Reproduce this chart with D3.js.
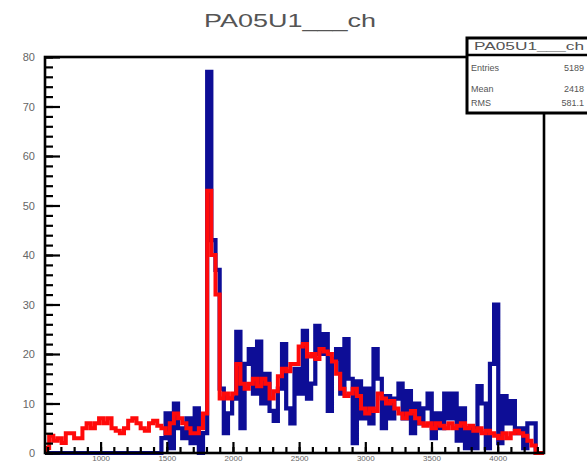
<!DOCTYPE html>
<html><head><meta charset="utf-8">
<script src="https://cdn.jsdelivr.net/npm/d3@7"></script>
<style>body{margin:0;background:#fff}svg{display:block}</style>
</head><body>
<script>
const title = "PA05U1___ch";
const xTickValues = [1000, 1500, 2000, 2500, 3000, 3500, 4000];
const yTickValues = [0, 10, 20, 30, 40, 50, 60, 70, 80];
const xMin = 580, xMax = 4350, nBins = 120;
const statsLabels = ["Entries", "Mean", "RMS"];
const statsValues = ["5189", "2418", "581.1"];

const blueValues = [
 0,0,0,0,0,0,0,0,0,0, 0,0,0,0,0,0,0,0,0,0, 0,0,0,0,0,0,0,0,3,8,
 1,10,5,3,7,2,9,0,4,77, 43,37,13,4,8,11,24.5,5,18,21, 12,22.5,10,16,8.5,6.5,13,22,9,6,
 17,12,24.7,11,14,25.7,20,24,8.5,19, 21,12,23,15,2,14.5,7,13,6,21,
 15,5,11.5,7,11,14,7,12.5,4,10, 6,9,12,3,8,5,12,7,12,2.5,
 9,1,5,1,13.5,10,1,18,30,2, 11.5,6,10.5,4,5,1,6,6,0,0
];
const redValues = [
 1,3.5,2.5,3,2,4,4,3,3,5, 6,5,6,7,6,7,5,4.5,4,5, 6.5,7,6,5,4.5,6,6.5,5.5,5,4,
 6,8,7,6,5,4,4,5,8,53, 40,32,11,12,11,12,18,14,13,14, 15,13.5,15,14,11,12.5,15.5,17,16.5,18,
 18,21.5,22,19.5,20,19,21,20.5,20,18.5, 16,13,11.5,12,13,11.5,9,8,9,8.5,
 12,11,10,10.5,9,8,7,8,8.5,7, 6,5.5,6,5,6,5.5,5,6,5,5.5,
 6,5,5.5,4.5,5,4,4.5,4,3.5,3, 4,3,4,4.5,4,3.5,2.5,1.5,0,0
];

const W = 587, H = 464;
const svg = d3.select("body").append("svg").attr("width", W).attr("height", H)
  .style("font-family", "'Liberation Sans', Arial, sans-serif");

const x = d3.scaleLinear().domain([xMin, xMax]).range([45, 544]);
const y = d3.scaleLinear().domain([0, 80]).range([453, 57]);
const bw = (xMax - xMin) / nBins;

svg.append("defs").append("clipPath").attr("id", "clip")
  .append("rect").attr("x", 45).attr("y", 40).attr("width", 499).attr("height", 416);

function histPts(vals) {
  const pts = [[xMin, 0]];
  vals.forEach((v, i) => { pts.push([xMin + i * bw, v]); pts.push([xMin + (i + 1) * bw, v]); });
  pts.push([xMax, 0]);
  return pts;
}
const line = d3.line().x(d => x(d[0])).y(d => y(d[1]));

const g = svg.append("g").attr("clip-path", "url(#clip)");
g.append("path").attr("d", line(histPts(blueValues))).attr("fill", "none")
  .attr("stroke", "#0d0d96").attr("stroke-width", 4.2);
g.append("path").attr("d", line(histPts(redValues))).attr("fill", "none")
  .attr("stroke", "#ff0a0a").attr("stroke-width", 4);

// axes
const yMinor = d3.range(0, 81, 2);
const yAxMinor = d3.axisLeft(y).tickValues(yMinor).tickSize(-8).tickFormat("");
svg.append("g").attr("transform", "translate(45,0)").call(yAxMinor);
const yAx = d3.axisLeft(y).tickValues(yTickValues).tickSize(-15).tickPadding(10).tickFormat(d3.format("d"));
svg.append("g").attr("transform", "translate(45,0)").call(yAx);

const xMinorVals = d3.range(0, 60).map(i => 500 + i * 100).filter(v => v >= xMin && v <= xMax);
const xAxMinor = d3.axisBottom(x).tickValues(xMinorVals).tickSize(-6).tickFormat("");
svg.append("g").attr("transform", "translate(0,453)").call(xAxMinor);
const xAx = d3.axisBottom(x).tickValues(xTickValues).tickSize(-11).tickPadding(3).tickFormat(d3.format("d"));
svg.append("g").attr("transform", "translate(0,453)").call(xAx);

svg.selectAll(".domain").remove();
svg.selectAll(".tick line").attr("stroke", "#000").attr("stroke-width", 2.2);
svg.selectAll(".tick text").attr("fill", "#666").style("font-size", "11px")
  .style("font-family", "'Liberation Sans', Arial, sans-serif");
svg.selectAll("g").filter(function(){ return this.getAttribute("transform") === "translate(0,453)"; })
  .selectAll(".tick text").style("font-size", "8px").attr("dy", "0.6em");

// frame
svg.append("rect").attr("x", 45).attr("y", 57).attr("width", 499).attr("height", 396)
  .attr("fill", "none").attr("stroke", "#000").attr("stroke-width", 2.6);

// title
svg.append("text").attr("x", 290).attr("y", 27).attr("text-anchor", "middle")
  .attr("fill", "#555").style("font-size", "19px")
  .attr("textLength", 172).attr("lengthAdjust", "spacingAndGlyphs").text(title);

// stats box
const sb = svg.append("g");
sb.append("rect").attr("x", 467).attr("y", 38).attr("width", 140).attr("height", 75)
  .attr("fill", "#fff").attr("stroke", "#000").attr("stroke-width", 3);
sb.append("line").attr("x1", 467).attr("x2", 590).attr("y1", 55).attr("y2", 55)
  .attr("stroke", "#000").attr("stroke-width", 2.5);
sb.append("text").attr("x", 474).attr("y", 50).attr("fill", "#555").style("font-size", "10px")
  .attr("textLength", 110).attr("lengthAdjust", "spacingAndGlyphs").text(title);
const rowsY = [71, 92, 106];
statsLabels.forEach((t, i) => {
  sb.append("text").attr("x", 471).attr("y", rowsY[i]).attr("fill", "#555").style("font-size", "9px").text(t);
  sb.append("text").attr("x", 584).attr("y", rowsY[i]).attr("text-anchor", "end").attr("fill", "#555").style("font-size", "9px").text(statsValues[i]);
});
</script>
</body></html>
